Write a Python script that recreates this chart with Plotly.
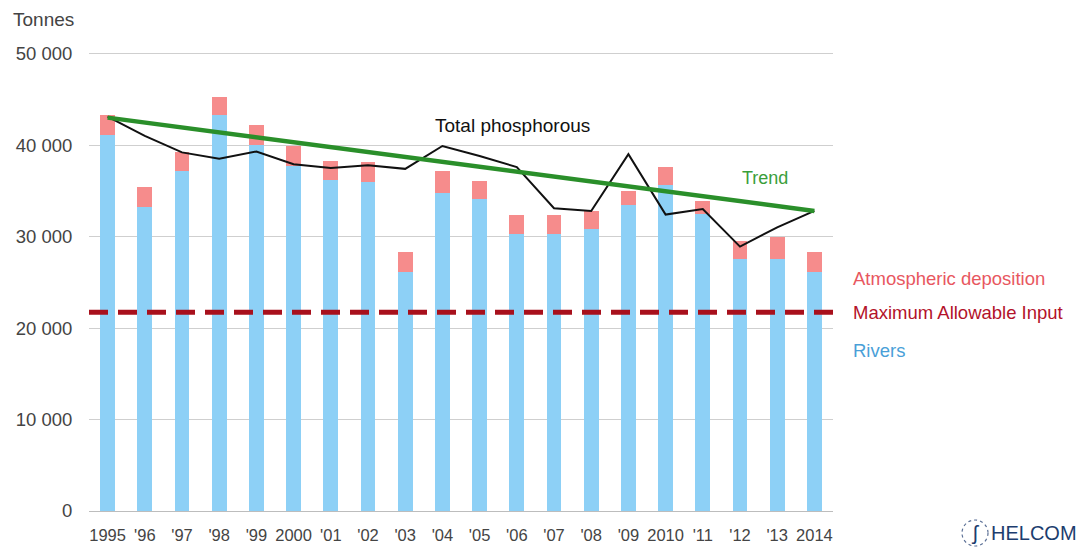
import plotly.graph_objects as go

years = list(range(1995, 2015))
year_labels = ["1995", "'96", "'97", "'98", "'99", "2000", "'01", "'02", "'03", "'04",
               "'05", "'06", "'07", "'08", "'09", "2010", "'11", "'12", "'13", "2014"]
rivers = [41100, 33200, 37200, 43300, 40000, 37700, 36200, 36000, 26100, 34800,
          34100, 30300, 30300, 30800, 33500, 35600, 32500, 27600, 27600, 26100]
atmospheric = [2200, 2200, 2000, 2000, 2200, 2200, 2100, 2100, 2200, 2400,
               2000, 2100, 2100, 2000, 1500, 2000, 1400, 1900, 2300, 2200]
total_p = [43100, 41000, 39200, 38500, 39300, 37900, 37500, 37800, 37400, 39900,
           38800, 37600, 33100, 32800, 39000, 32400, 33000, 28900, 31000, 32800]
trend_years = [1995, 2014]
trend_vals = [43000, 32800]
mai = 21716
y_ticks = [0, 10000, 20000, 30000, 40000, 50000]

W, H = 1077, 551
L, R, T, B = 89, 244, 49, 40
FONT = "Liberation Sans, Arial, sans-serif"


def px(x):
    return (x - L) / (W - L - R)


def py(y):
    return (H - B - y) / (H - T - B)


fig = go.Figure()
fig.add_bar(x=years, y=rivers, name="Rivers", marker=dict(color="#8dd0f6", line=dict(width=0)),
            width=0.4)
fig.add_bar(x=years, y=atmospheric, name="Atmospheric deposition",
            marker=dict(color="#f68c8c", line=dict(width=0)), width=0.4)
fig.add_scatter(x=[years[0] - 0.5, years[-1] + 0.5], y=[mai, mai], mode="lines",
                line=dict(color="#a8101c", width=5, dash="19px,10px"), cliponaxis=False)
fig.add_scatter(x=years, y=total_p, mode="lines", line=dict(color="#111111", width=2))
fig.add_scatter(x=trend_years, y=trend_vals, mode="lines", line=dict(color="#2a8f2a", width=4.5))

ann = []


def text(s, x, y, color, size=18.5, xanchor="left"):
    ann.append(dict(text=s, x=px(x), y=py(y), xref="paper", yref="paper", showarrow=False,
                    xanchor=xanchor, yanchor="middle", borderpad=0,
                    font=dict(family=FONT, size=size, color=color)))


text("Tonnes", 12, 19, "#444444", size=19)
text("Total phosphorous", 434, 126, "#111111", size=19)
text("Trend", 741, 178, "#3a9e3a", size=18)
text("Atmospheric deposition", 852, 278, "#e8575f")
text("Maximum Allowable Input", 852, 312, "#b3122a")
text("Rivers", 852, 350, "#4a9fd8")
text("HELCOM", 990, 533, "#1c3d6e", size=20)
text("ʃ", 975, 532, "#1c3d6e", size=21, xanchor="center")

fig.update_layout(
    width=W, height=H, margin=dict(l=L, r=R, t=T, b=B, autoexpand=False),
    paper_bgcolor="white", plot_bgcolor="white",
    barmode="stack", showlegend=False, separators=". ",
    font=dict(family=FONT, size=18, color="#444444"),
    annotations=ann,
    shapes=[dict(type="circle", xref="paper", yref="paper", x0=px(962), x1=px(988),
                 y0=py(546), y1=py(520), line=dict(color="#5a6f95", width=1.2, dash="dot"))],
    xaxis=dict(tickvals=years, ticktext=year_labels, range=[years[0] - 0.5, years[-1] + 0.5],
               showgrid=False, showline=False, zeroline=False, ticks="outside", ticklen=9,
               tickcolor="rgba(0,0,0,0)", tickangle=0, automargin=False,
               tickfont=dict(size=16.5, color="#444444")),
    yaxis=dict(range=[0, 50500], tickvals=y_ticks, tickformat=",", showgrid=True,
               gridcolor="#cfcfcf", gridwidth=1, zeroline=True, zerolinecolor="#bdbdbd",
               zerolinewidth=1, showline=False, ticks="outside", ticklen=12, automargin=False,
               tickcolor="rgba(0,0,0,0)", tickfont=dict(size=18.5, color="#444444")),
)

fig.write_html("out.html", config={"displayModeBar": False},
               post_script="document.body.style.margin='0';document.body.style.padding='0';")
